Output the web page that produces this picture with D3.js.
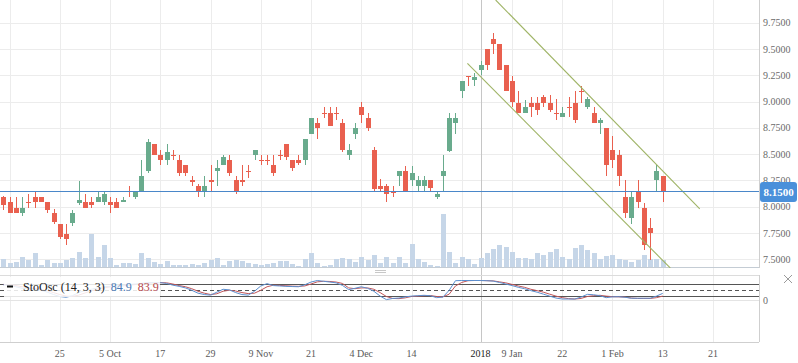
<!DOCTYPE html>
<html><head><meta charset="utf-8">
<script src="https://cdn.jsdelivr.net/npm/d3@7"></script>
<style>html,body{margin:0;padding:0;background:#fff;overflow:hidden}svg{display:block}</style>
</head><body><svg id="c" width="798" height="363"></svg>
<script>
// ---- data ----
const openP  = [8.09,8.045,7.99,7.94,8.05,8.09,8.09,8.045,7.94,7.84,7.745,7.85,8.04,8.045,8.045,8.045,8.045,8.045,8.045,8.045,8.15,8.09,8.145,8.34,8.595,8.49,8.445,8.49,8.445,8.40,8.25,8.20,8.145,8.25,8.34,8.40,8.445,8.25,8.25,8.34,8.49,8.445,8.445,8.40,8.49,8.595,8.445,8.445,8.445,8.69,8.80,8.89,8.89,8.89,8.80,8.49,8.69,8.95,8.845,8.54,8.20,8.20,8.145,8.29,8.34,8.25,8.20,8.20,8.25,8.095,8.29,8.535,8.80,9.10,9.245,9.205,9.30,9.50,9.595,9.55,9.345,9.195,8.99,8.89,8.99,8.99,9.04,8.99,8.89,8.85,8.95,8.99,9.10,8.95,8.89,8.795,8.75,8.54,8.49,8.09,7.89,8.145,7.99,7.80,8.25,8.29];
const highP  = [8.10,8.09,8.09,8.09,8.12,8.15,8.09,8.045,7.98,7.84,7.84,7.965,8.245,8.12,8.09,8.15,8.15,8.09,8.08,8.09,8.20,8.14,8.445,8.645,8.595,8.54,8.595,8.54,8.49,8.40,8.29,8.22,8.29,8.40,8.445,8.49,8.49,8.29,8.40,8.40,8.54,8.49,8.49,8.49,8.54,8.595,8.445,8.49,8.645,8.845,8.845,8.95,8.95,8.95,8.835,8.595,8.80,8.995,8.89,8.57,8.265,8.215,8.20,8.34,8.385,8.385,8.29,8.29,8.25,8.15,8.49,8.89,8.89,9.195,9.245,9.27,9.39,9.50,9.65,9.55,9.345,9.245,9.10,9.02,9.04,9.04,9.065,9.065,9.025,8.95,9.04,9.10,9.15,9.04,8.95,8.845,8.75,8.67,8.54,8.25,8.145,8.25,8.04,7.89,8.40,8.29];
const lowP   = [7.97,7.94,7.94,7.91,7.99,7.99,8.045,7.94,7.84,7.69,7.64,7.82,8.02,7.99,7.99,8.045,8.02,7.94,7.99,8.045,8.09,8.07,8.145,8.32,8.49,8.40,8.40,8.445,8.29,8.29,8.20,8.09,8.09,8.145,8.20,8.40,8.29,8.12,8.20,8.27,8.445,8.40,8.40,8.29,8.445,8.445,8.34,8.40,8.40,8.69,8.645,8.845,8.765,8.825,8.52,8.445,8.645,8.80,8.72,8.145,8.145,8.05,8.095,8.20,8.15,8.20,8.15,8.15,8.15,8.07,8.15,8.52,8.69,9.03,9.15,9.15,9.255,9.30,9.455,9.30,9.10,8.95,8.89,8.89,8.85,8.875,8.95,8.90,8.825,8.85,8.85,8.795,8.99,8.93,8.795,8.69,8.29,8.37,8.20,7.89,7.84,7.99,7.59,7.495,8.15,8.045];
const closeP = [8.02,7.94,7.94,7.99,8.04,8.045,8.045,7.97,7.86,7.71,7.69,7.94,8.065,7.99,8.02,8.09,8.12,8.02,7.99,8.065,8.14,8.14,8.29,8.615,8.49,8.445,8.52,8.48,8.325,8.325,8.24,8.145,8.20,8.24,8.37,8.475,8.325,8.145,8.24,8.33,8.54,8.435,8.435,8.325,8.48,8.475,8.37,8.415,8.645,8.845,8.75,8.88,8.765,8.88,8.54,8.54,8.75,8.87,8.75,8.17,8.17,8.12,8.135,8.34,8.15,8.32,8.25,8.25,8.175,8.12,8.34,8.845,8.845,9.195,9.235,9.23,9.345,9.35,9.55,9.30,9.10,9.00,8.89,8.95,8.95,8.92,8.99,8.92,8.88,8.89,8.94,8.825,9.09,9.025,8.795,8.825,8.40,8.445,8.29,7.94,8.09,8.045,7.64,7.75,8.34,8.15];
const volume = [0.9,0.53,0.6,1.1,0.8,1.5,0.3,0.8,0.5,0.5,0.8,1.0,1.6,1.0,3.4,1.1,2.3,1.0,0.3,0.5,0.5,0.4,1.5,1.0,0.6,0.4,0.7,0.3,0.3,0.3,0.4,0.3,0.5,0.8,1.0,0.3,0.7,0.8,0.7,0.5,0.4,0.3,0.4,0.5,0.7,0.7,0.4,0.2,0.9,1.5,0.5,0.2,0.3,0.9,1.0,0.9,0.6,1.1,0.8,1.3,0.5,1.1,0.5,1.1,0.5,2.4,0.9,0.6,0.3,0.2,5.4,1.6,0.5,1.1,0.9,0.4,1.0,1.5,1.9,2.3,2.1,1.6,1.0,1.0,0.9,1.5,1.3,1.6,1.9,1.1,0.9,2.0,2.3,1.8,1.5,0.9,1.2,1.3,0.9,0.8,0.6,0.8,1.3,0.9,0.9,0.8];
const stochK = [78,76,68,60,58,55,50,40,28,18,14,22,38,48,55,62,68,70,72,75,80,82,85,90,89,89,85,76,70,62,50,35,28,25,40,55,52,38,28,25,45,72,84,74,72,70,69,68,78,92,100,96,92,88,75,53,60,68,60,45,20,2,8,10,16,20,22,24,22,12,15,50,99,100,100,100,100,99,97,90,82,74,65,58,48,40,30,20,10,5,5,5,15,29,27,22,12,16,17,14,9,9,9,9,20,34];
const stochD = [80,78,74,68,62,58,54,48,38,28,20,18,25,36,47,55,62,67,70,72,76,79,82,86,88,89,88,82,74,68,58,45,35,28,32,45,50,46,38,33,35,50,68,76,75,73,71,70,72,82,93,96,95,92,85,62,58,62,62,55,38,18,8,7,11,18,20,22,23,18,16,30,72,90,99,100,100,99,98,93,88,80,72,65,55,48,40,30,20,12,7,5,8,18,22,24,20,17,16,15,10,8,8,8,12,20];
const priceTicks = [7.5,7.75,8.0,8.25,8.5,8.75,9.0,9.25,9.5,9.75];
const dateTickIdx = [9,17,25,33,41,49,57,65,76,81,89,97,105,113];
const dateTickLabels = ["25","5 Oct","17","29","9 Nov","21","4 Dec","14","2018","9 Jan","22","1 Feb","13","21"];
const gridIdx = [1,9,17,25,33,41,49,57,65,73,81,89,97,105,113];
const yearLineIdx = 76;
const lastPrice = 8.15;
const channelUpper = [[78.4,9.966],[110.9,7.98]];
const channelLower = [[73.9,9.364],[106.2,7.418]];
const stochLevels = [20,80];
const stochMid = 50;
const legendText = "StoOsc (14, 3, 3)", legendK = "84.9", legendD = "83.9";

// ---- layout ----
const W = 759, priceBottom = 268, stTop = 275, stBottom = 342;
const FONT = "'Liberation Serif','Times New Roman',serif";
const RED = "#e9604f", GREEN = "#69ab8d", VOL = "#c6d6e8";
const svg = d3.select("#c");
const x = d3.scaleLinear().domain([-0.525, 120.33]).range([0, W]);
const y = d3.scaleLinear().domain([7.418, 9.966]).range([priceBottom, 0]);
const yV = d3.scaleLinear().domain([0, 5.4]).range([priceBottom, priceBottom - 54]);
const yS = d3.scaleLinear().domain([0, 100]).range([300, 280.5]);
const px = i => Math.round(x(i));

svg.append("defs").append("clipPath").attr("id","pc").append("rect")
  .attr("x",0).attr("y",0).attr("width",W).attr("height",priceBottom);

// vertical grid
svg.append("g").selectAll("line").data(gridIdx).join("line")
  .attr("x1",d=>px(d)+0.5).attr("x2",d=>px(d)+0.5).attr("y1",0).attr("y2",stBottom)
  .attr("stroke","#ececec").attr("stroke-width",1);
// horizontal price grid
svg.append("g").selectAll("line").data(priceTicks).join("line")
  .attr("x1",0).attr("x2",W).attr("y1",d=>Math.round(y(d))+0.5).attr("y2",d=>Math.round(y(d))+0.5)
  .attr("stroke","#ececec");
// year line
svg.append("line").attr("x1",px(yearLineIdx)+0.5).attr("x2",px(yearLineIdx)+0.5)
  .attr("y1",0).attr("y2",stBottom).attr("stroke","#c6c6c6");

// volume bars
svg.append("g").selectAll("rect").data(volume).join("rect")
  .attr("x",(d,i)=>px(i)-2).attr("width",5)
  .attr("y",d=>Math.round(yV(d))).attr("height",d=>priceBottom-Math.round(yV(d)))
  .attr("fill",VOL);
svg.append("line").attr("x1",0).attr("x2",W).attr("y1",priceBottom-0.5).attr("y2",priceBottom-0.5)
  .attr("stroke","#c4ccd4");

// candles
const cg = svg.append("g");
openP.forEach((o,i)=>{
  const c = closeP[i], col = c>=o ? GREEN : RED, cx = px(i);
  cg.append("line").attr("x1",cx+0.5).attr("x2",cx+0.5)
    .attr("y1",Math.round(y(highP[i]))).attr("y2",Math.round(y(lowP[i])))
    .attr("stroke",col).attr("stroke-width",1);
  const top = Math.round(y(Math.max(o,c))), bot = Math.round(y(Math.min(o,c)));
  cg.append("rect").attr("x",cx-2).attr("width",5).attr("y",top)
    .attr("height",Math.max(1,bot-top)).attr("fill",col);
});

// channel lines
const cl = svg.append("g").attr("clip-path","url(#pc)");
[channelUpper, channelLower].forEach(seg=>{
  cl.append("line").attr("x1",x(seg[0][0])).attr("y1",y(seg[0][1]))
    .attr("x2",x(seg[1][0])).attr("y2",y(seg[1][1]))
    .attr("stroke","#9fb466").attr("stroke-width",1.1);
});

// last price line
svg.append("line").attr("x1",0).attr("x2",W).attr("y1",Math.round(y(lastPrice))+0.5)
  .attr("y2",Math.round(y(lastPrice))+0.5).attr("stroke","#4a87c9").attr("stroke-width",1.2);

// right price axis
svg.append("line").attr("x1",W+0.5).attr("x2",W+0.5).attr("y1",0).attr("y2",priceBottom)
  .attr("stroke","#cfcfcf");
svg.append("g").selectAll("text").data(priceTicks).join("text")
  .attr("x",763).attr("y",d=>y(d)+3.5).text(d=>d.toFixed(4))
  .attr("font-family",FONT).attr("font-size",10).attr("fill","#6a6a6a");
svg.append("rect").attr("x",760).attr("y",Math.round(y(lastPrice))-9).attr("width",37).attr("height",20)
  .attr("rx",3).attr("fill","#4a90da");
svg.append("text").attr("x",778.5).attr("y",y(lastPrice)+4.8).attr("text-anchor","middle")
  .text(lastPrice.toFixed(4)).attr("font-family",FONT).attr("font-size",11)
  .attr("font-weight","bold").attr("fill","#fff");

// pane handle
[270.5,272.5].forEach(yy=>svg.append("line").attr("x1",375).attr("x2",386).attr("y1",yy).attr("y2",yy)
  .attr("stroke","#c8c8c8"));

// stochastic panel
svg.append("line").attr("x1",0).attr("x2",W).attr("y1",stTop+0.5).attr("y2",stTop+0.5).attr("stroke","#dcdcdc");
svg.append("line").attr("x1",0).attr("x2",W).attr("y1",stBottom+0.5).attr("y2",stBottom+0.5).attr("stroke","#cfcfcf");
svg.append("line").attr("x1",W+0.5).attr("x2",W+0.5).attr("y1",stTop).attr("y2",stBottom).attr("stroke","#cfcfcf");
svg.append("line").attr("x1",0).attr("x2",W).attr("y1",Math.round(yS(0))+0.5).attr("y2",Math.round(yS(0))+0.5)
  .attr("stroke","#e4e4e4");
svg.append("text").attr("x",763).attr("y",yS(0)+4).text("0")
  .attr("font-family",FONT).attr("font-size",10).attr("fill","#6a6a6a");
stochLevels.forEach(v=>svg.append("line").attr("x1",0).attr("x2",W)
  .attr("y1",Math.round(yS(v))+0.5).attr("y2",Math.round(yS(v))+0.5).attr("stroke","#555"));
svg.append("line").attr("x1",0).attr("x2",W).attr("y1",Math.round(yS(stochMid))+0.5)
  .attr("y2",Math.round(yS(stochMid))+0.5).attr("stroke","#555").attr("stroke-dasharray","4,3");
const sl = d3.line().x((d,i)=>x(i)).y(d=>yS(d));
svg.append("path").attr("d",sl(stochD)).attr("fill","none").attr("stroke","#c0565a").attr("stroke-width",1);
svg.append("path").attr("d",sl(stochK)).attr("fill","none").attr("stroke","#5c8fcf").attr("stroke-width",1);

// legend
svg.append("rect").attr("x",4).attr("y",277).attr("width",156).attr("height",20)
  .attr("fill","#fff").attr("opacity",0.85);
svg.append("line").attr("x1",7).attr("x2",13).attr("y1",286.5).attr("y2",286.5).attr("stroke","#111").attr("stroke-width",2);
const lt = svg.append("text").attr("x",23).attr("y",291).attr("font-family",FONT).attr("font-size",12);
lt.append("tspan").text(legendText).attr("fill","#222");
lt.append("tspan").attr("dx",6).text(legendK).attr("fill","#4a78b4");
lt.append("tspan").attr("dx",6).text(legendD).attr("fill","#b5484a");

// close icon
svg.append("line").attr("x1",784).attr("y1",275).attr("x2",792).attr("y2",283).attr("stroke","#9a9a9a");
svg.append("line").attr("x1",792).attr("y1",275).attr("x2",784).attr("y2",283).attr("stroke","#9a9a9a");

// date axis labels
svg.append("g").selectAll("text").data(dateTickIdx).join("text")
  .attr("x",d=>x(d)).attr("y",357).attr("text-anchor","middle")
  .text((d,i)=>dateTickLabels[i])
  .attr("font-family",FONT).attr("font-size",10)
  .attr("fill",(d,i)=>dateTickLabels[i]==="2018"?"#222":"#5a5a5a");
</script></body></html>
